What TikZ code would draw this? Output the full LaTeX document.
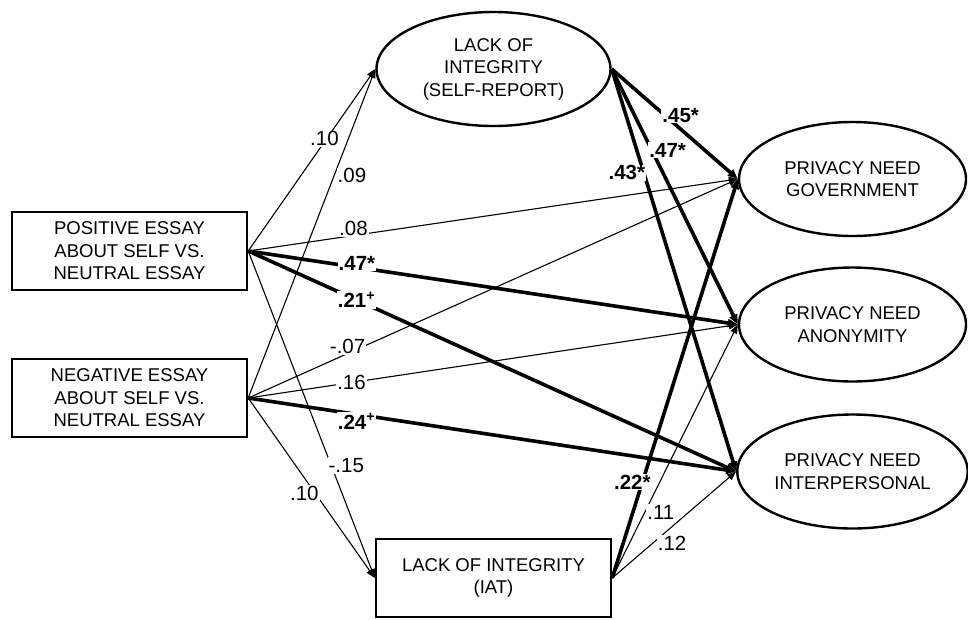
\documentclass[tikz,border=0pt]{standalone}
\usepackage{fontspec}
\setmainfont{Liberation Sans}
\usepackage{tikz}
\usetikzlibrary{shapes.geometric}
\usetikzlibrary{arrows.meta}

\begin{document}
\begin{tikzpicture}[x=1pt, y=-1pt]
      % Definimos algunos estilos
      \tikzstyle{caja}=[
        rectangle,
        draw=black,
        line width=2.4pt,
        minimum width=235pt,
        minimum height=78pt,
        align=center,
        font=\fontsize{18.5}{22.5}\selectfont
      ]
      % variables latentes
      \tikzstyle{latente}=[
        ellipse,
        draw=black,
        line width=2.4pt,
        minimum width=227pt,
        minimum height=114pt,
        align=center,
        font=\fontsize{18.5}{22.5}\selectfont
      ]
      % caminos no significativos y significativos
      \tikzstyle{fino}=[-{Triangle[length=9pt, width=7pt]}, line width=1.1pt]
      \tikzstyle{grueso}=[-{Triangle[length=10pt, width=8pt]}, line width=3.6pt]
      % coeficientes
      \tikzstyle{coef}=[fill=white, inner sep=1pt, font=\fontsize{20.5}{24}\selectfont]
      \tikzstyle{coefsig}=[coef, font=\fontsize{20.5}{24}\selectfont\bfseries]

      \useasboundingbox (0,0) rectangle (968,619);

      % manipulaciones
      \node[caja] (Pos) at (129.5, 251) {POSITIVE ESSAY\\ABOUT SELF VS.\\NEUTRAL ESSAY};
      \node[caja] (Neg) at (129.5, 398) {NEGATIVE ESSAY\\ABOUT SELF VS.\\NEUTRAL ESSAY};

      % mediadores
      \node[latente, minimum width=234pt] (SelfRep) at (493.5, 69) {LACK OF\\INTEGRITY\\(SELF-REPORT)};
      \node[caja] (IAT) at (493.5, 578) {LACK OF INTEGRITY\\(IAT)};

      % necesidades de privacidad
      \node[latente] (Gov) at (852.5, 179) {PRIVACY NEED\\GOVERNMENT};
      \node[latente] (Anon) at (852.5, 324.5) {PRIVACY NEED\\ANONYMITY};
      \node[latente] (Inter) at (852.5, 471.5) {PRIVACY NEED\\INTERPERSONAL};

      % desde el ensayo positivo
      \draw (Pos.east) edge[fino] node[coef, pos=0.6, yshift=3pt] {.10} (SelfRep.west);
      \draw (Pos.east) edge[fino] node[coef, pos=0.215, yshift=7pt] {.08} (Gov.west);
      \draw (Pos.east) edge[grueso] node[coefsig, pos=0.222, yshift=4pt] {.47*} (Anon.west);
      \draw (Pos.east) edge[grueso] node[coefsig, pos=0.222] {.21\textsuperscript{+}} (Inter.west);
      \draw (Pos.east) edge[fino] node[coef, pos=0.656, xshift=15pt] {-.15} (IAT.west);

      % desde el ensayo negativo
      \draw (Neg.east) edge[fino] node[coef, pos=0.675, xshift=18pt] {.09} (SelfRep.west);
      \draw (Neg.east) edge[fino] node[coef, pos=0.203, yshift=7pt] {-.07} (Gov.west);
      \draw (Neg.east) edge[fino] node[coef, pos=0.211] {.16} (Anon.west);
      \draw (Neg.east) edge[grueso] node[coefsig, pos=0.222, yshift=-7pt] {.24\textsuperscript{+}} (Inter.west);
      \draw (Neg.east) edge[fino] node[coef, pos=0.53, xshift=-11pt] {.10} (IAT.west);

      % desde el autoinforme
      \draw (SelfRep.east) edge[grueso] node[coefsig, pos=0.547, yshift=14pt] {.45*} (Gov.west);
      \draw (SelfRep.east) edge[grueso] node[coefsig, pos=0.317, xshift=16pt] {.47*} (Anon.west);
      \draw (SelfRep.east) edge[grueso] node[coefsig, pos=0.258, xshift=-17pt] {.43*} (Inter.west);

      % desde el IAT
      \draw (IAT.east) edge[grueso] node[coefsig, pos=0.24, xshift=-10pt] {.22*} (Gov.west);
      \draw (IAT.east) edge[fino] node[coef, pos=0.26, xshift=16pt] {.11} (Anon.west);
      \draw (IAT.east) edge[fino] node[coef, pos=0.33, xshift=19pt] {.12} (Inter.west);
\end{tikzpicture}
\end{document}
